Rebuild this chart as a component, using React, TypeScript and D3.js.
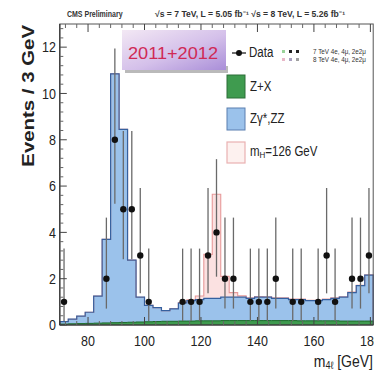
import React from 'react';
import * as d3 from 'd3';

const WIDTH = 374;
const HEIGHT = 379;

// 3 GeV bins over m4l = 70 .. 181 GeV (lower edges)
const binLow = d3.range(70, 181, 3);
const BIN_W = 3;

// Observed events per bin
const dataCounts = [1, 0, 0, 0, 0, 2, 8, 5, 5, 3, 1, 0, 0, 0, 1, 1, 1, 3, 4, 2, 2, 0, 1, 1, 1, 2, 0, 1, 1, 0, 1, 3, 1, 0, 2, 2, 3];

// Reducible background Z+X
const zxBkg = [0.04, 0.05, 0.06, 0.07, 0.08, 0.09, 0.1, 0.11, 0.12, 0.13, 0.14, 0.15, 0.16, 0.16, 0.17, 0.17, 0.18, 0.18, 0.18, 0.19, 0.19, 0.19, 0.19, 0.19, 0.19, 0.19, 0.19, 0.19, 0.18, 0.18, 0.18, 0.18, 0.18, 0.17, 0.17, 0.17, 0.17];

// Irreducible background Zγ*, ZZ
const zzBkg = [0.11, 0.2, 0.32, 0.48, 1.17, 3.61, 10.75, 8.34, 2.68, 1.07, 0.71, 0.6, 0.46, 0.54, 0.78, 0.88, 0.92, 0.97, 0.97, 1.01, 1.01, 1.01, 0.96, 1.01, 1.01, 0.96, 0.96, 0.91, 0.92, 0.87, 0.87, 0.92, 0.97, 1.03, 1.23, 1.53, 1.98];

// Expected signal for mH = 126 GeV
const higgs126 = [0, 0, 0, 0, 0, 0, 0, 0, 0, 0, 0, 0, 0, 0.01, 0.02, 0.04, 0.15, 1.9, 4.5, 0.9, 0.2, 0.06, 0.03, 0.03, 0.02, 0.02, 0.02, 0.02, 0.02, 0.02, 0.02, 0.02, 0.02, 0.02, 0.02, 0.02, 0.02];

// Central 68% Poisson intervals for the observed counts
const poissonLow: Record<number, number> = { 1: 0.173, 2: 0.708, 3: 1.367, 4: 2.086, 5: 2.84, 8: 5.24 };
const poissonHigh: Record<number, number> = { 1: 3.3, 2: 4.638, 3: 5.918, 4: 7.163, 5: 8.382, 8: 11.94 };

const yTicks = [0, 2, 4, 6, 8, 10, 12];
const xTicks = [80, 100, 120, 140, 160, 180];

const FONT = "'Liberation Sans', Arial, Helvetica, sans-serif";

function T({ x, y, size, children, anchor = 'start', weight = 'normal', fill = '#222', len }: any) {
  return (
    <text
      transform={`translate(${x},${y}) scale(1,1.2)`}
      fontSize={size}
      fontFamily={FONT}
      fontWeight={weight}
      textAnchor={anchor}
      fill={fill}
      textLength={len}
      lengthAdjust={len ? 'spacingAndGlyphs' : undefined}
    >
      {children}
    </text>
  );
}

export default function App() {
  const x = d3.scaleLinear().domain([70, 181]).range([59.8, 373.2]);
  const y = d3.scaleLinear().domain([0, 13]).range([325, 24]);

  const zxTop = zxBkg;
  const zzTop = zzBkg.map((v, i) => v + zxBkg[i]);
  const sigTop = higgs126.map((v, i) => v + zzTop[i]);

  const steps = (vals: number[]) =>
    binLow.map((m, i) => [m, vals[i]] as [number, number]).concat([[181, vals[vals.length - 1]]]);

  const area = d3
    .area<[number, number]>()
    .x((d) => x(d[0]))
    .y0(y(0))
    .y1((d) => y(d[1]))
    .curve(d3.curveStepAfter);

  const line = d3
    .line<[number, number]>()
    .x((d) => x(d[0]))
    .y((d) => y(d[1]))
    .curve(d3.curveStepAfter);

  const outline = (vals: number[]) => {
    const pts = steps(vals);
    return `M${x(70)},${y(0)}L` + (line(pts) || '').slice(1) + `L${x(181)},${y(0)}`;
  };

  const yMinor = d3.range(0, 13.01, 0.4).filter((v) => Math.abs(v / 2 - Math.round(v / 2)) > 1e-6);
  const xMinor = d3.range(72, 181, 4).filter((v) => v % 20 !== 0);

  const points = binLow
    .map((m, i) => ({ m: m + BIN_W / 2, n: dataCounts[i] }))
    .filter((d) => d.n > 0);

  const left = x(70);
  const right = x(181);
  const bottom = y(0);
  const top = y(13);

  return (
    <svg
      width={WIDTH}
      height={HEIGHT}
      viewBox={`0 0 ${WIDTH} ${HEIGHT}`}
      style={{ position: 'absolute', left: 0, top: 0, background: '#fff' }}
    >
      <defs>
        <linearGradient id="yearTag" x1="0" y1="0" x2="1" y2="1">
          <stop offset="0" stopColor="#f3e8f4" />
          <stop offset="0.55" stopColor="#d4c0ea" />
          <stop offset="1" stopColor="#a98ed8" />
        </linearGradient>
      </defs>
      <rect x={0} y={0} width={WIDTH} height={HEIGHT} fill="#fff" />

      {/* stacked histograms */}
      <path d={area(steps(sigTop)) || ''} fill="#fbe1e1" />
      <path d={area(steps(zzTop)) || ''} fill="#9bc2eb" />
      <path d={area(steps(zxTop)) || ''} fill="#3f9b4f" />
      <path d={outline(sigTop)} fill="none" stroke="#e79a9a" strokeWidth={1.1} />
      <path d={outline(zzTop)} fill="none" stroke="#35609f" strokeWidth={1.2} />
      <path d={outline(zxTop)} fill="none" stroke="#1d6b2a" strokeWidth={1} />

      {/* data */}
      {points.map((d, i) => (
        <line
          key={`e${i}`}
          x1={x(d.m)}
          x2={x(d.m)}
          y1={y(poissonLow[d.n])}
          y2={y(poissonHigh[d.n])}
          stroke="#6a6a6a"
          strokeWidth={1.3}
        />
      ))}
      {points.map((d, i) => (
        <circle key={`p${i}`} cx={x(d.m)} cy={y(d.n)} r={3.2} fill="#111" />
      ))}

      {/* frame and axes */}
      <rect x={left} y={top} width={right - left} height={bottom - top} fill="none" stroke="#555" strokeWidth={1} />
      <line x1={left} x2={left} y1={top} y2={bottom} stroke="#333" strokeWidth={1.2} />
      <line x1={left} x2={right} y1={bottom} y2={bottom} stroke="#333" strokeWidth={1.2} />
      {yTicks.map((t) => (
        <g key={`yt${t}`}>
          <line x1={left} x2={left + 7} y1={y(t)} y2={y(t)} stroke="#444" />
          <T x={56} y={y(t) + 5.2} size={12.5} anchor="end">
            {t}
          </T>
        </g>
      ))}
      {yMinor.map((t) => (
        <line key={`ym${t}`} x1={left} x2={left + 3.5} y1={y(t)} y2={y(t)} stroke="#666" />
      ))}
      {xTicks.map((t) => (
        <g key={`xt${t}`}>
          <line x1={x(t)} x2={x(t)} y1={bottom} y2={bottom - 8} stroke="#444" />
          <line x1={x(t)} x2={x(t)} y1={top} y2={top + 8} stroke="#444" />
          <T x={x(t)} y={346} size={12.5} anchor="middle">
            {t}
          </T>
        </g>
      ))}
      {xMinor.map((t) => (
        <g key={`xm${t}`}>
          <line x1={x(t)} x2={x(t)} y1={bottom} y2={bottom - 4} stroke="#666" />
          <line x1={x(t)} x2={x(t)} y1={top} y2={top + 4} stroke="#666" />
        </g>
      ))}

      {/* axis titles */}
      <text
        transform="translate(34,25) scale(1,1.2) rotate(-90)"
        fontSize={17}
        fontFamily={FONT}
        fontWeight="bold"
        textAnchor="end"
        fill="#222"
      >
        Events / 3 GeV
      </text>
      <text transform="translate(373,367) scale(1,1.2)" fontSize={14} fontFamily={FONT} textAnchor="end" fill="#222">
        m<tspan fontSize={9} dy={2}>4ℓ</tspan>
        <tspan dy={-2}> [GeV]</tspan>
      </text>

      {/* header */}
      <T x={67} y={17} size={7} weight="bold" fill="#333">
        CMS Preliminary
      </T>
      <T x={155} y={17} size={7} weight="bold" fill="#333" len={190}>
        √s = 7 TeV, L = 5.05 fb⁻¹  √s = 8 TeV, L = 5.26 fb⁻¹
      </T>

      {/* year tag */}
      <rect x={125} y={66} width={103} height={7} fill="#9c9c9c" opacity={0.7} />
      <rect x={122} y={30} width={104} height={40} fill="url(#yearTag)" />
      <T x={128} y={59} size={14.5} fill="#d02a55" len={90}>
        2011+2012
      </T>

      {/* legend */}
      <line x1={232} x2={246} y1={53} y2={53} stroke="#222" strokeWidth={1.3} />
      <circle cx={239} cy={53} r={3} fill="#111" />
      <T x={249} y={57} size={11.5}>
        Data
      </T>
      <rect x={282} y={50} width={3} height={3} fill="#9ad39a" />
      <rect x={289} y={50} width={3} height={3} fill="#222" />
      <rect x={296} y={50} width={3} height={3} fill="#222" />
      <rect x={282} y={58} width={3} height={3} fill="#e8b8c8" />
      <rect x={289} y={58} width={3} height={3} fill="#a9a0c0" />
      <rect x={296} y={58} width={3} height={3} fill="#a0a0a0" />
      <T x={313} y={54} size={5.5} fill="#333" len={53}>
        7 TeV 4e, 4μ, 2e2μ
      </T>
      <T x={313} y={62} size={5.5} fill="#333" len={53}>
        8 TeV 4e, 4μ, 2e2μ
      </T>

      <rect x={227} y={75} width={18} height={23} fill="#3f9b4f" stroke="#2d6e38" strokeWidth={1} />
      <T x={250} y={91} size={11.5}>
        Z+X
      </T>
      <rect x={227} y={108} width={18} height={22} fill="#9bc2eb" stroke="#5a7fb0" strokeWidth={1} />
      <T x={250} y={123} size={11.5}>
        Zγ*,ZZ
      </T>
      <rect x={227} y={142} width={18} height={21} fill="#fdf1ef" stroke="#eab1b1" strokeWidth={1.2} />
      <text transform="translate(250,156) scale(1,1.2)" fontSize={11.5} fontFamily={FONT} fill="#222">
        m<tspan fontSize={8} dy={2}>H</tspan>
        <tspan dy={-2}>=126 GeV</tspan>
      </text>
    </svg>
  );
}
